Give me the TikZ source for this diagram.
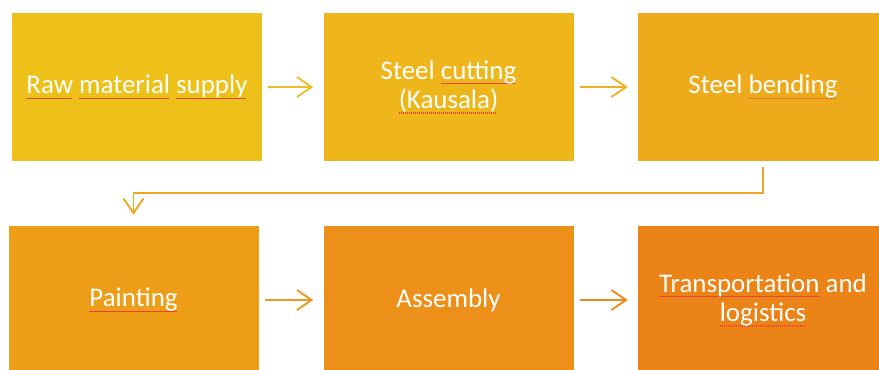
\documentclass[tikz,border=0pt]{standalone}
\usepackage{fontspec}
\setmainfont{Carlito}
\usetikzlibrary{arrows.meta}

\definecolor{spellred}{RGB}{228,70,60}
\definecolor{s1}{RGB}{237,193,25}
\definecolor{s2}{RGB}{238,182,26}
\definecolor{s3}{RGB}{237,170,27}
\definecolor{s4}{RGB}{237,157,22}
\definecolor{s5}{RGB}{236,144,25}
\definecolor{s6}{RGB}{235,131,23}
\definecolor{a1}{RGB}{238,188,40}
\definecolor{a2}{RGB}{238,177,35}
\definecolor{a3}{RGB}{237,165,35}
\definecolor{a4}{RGB}{237,150,32}
\definecolor{a5}{RGB}{236,138,30}

% small red wavy proofing mark under a word, built from leaders
\newsavebox\spellbox
\newcommand\spellmark[1]{\sbox\spellbox{#1}\leavevmode
  \rlap{\color{spellred}\leaders\hbox to 1.5pt{%
    \vrule height -2.7pt depth 3.15pt width 0.5pt
    \vrule height -3.15pt depth 3.6pt width 0.5pt\hfil}\hskip\wd\spellbox}%
  \usebox\spellbox}

\begin{document}
\begin{tikzpicture}[x=0.75pt,y=-0.75pt,
  stage/.style={rectangle, minimum width=187.5pt, minimum height=111pt,
    inner sep=0pt, text=white, align=center,
    font=\fontsize{20.2}{22}\selectfont},
  flow/.style={line width=1.4pt, -{Straight Barb[length=11pt,width=15pt,line join=miter]}}]
\useasboundingbox (0,0) rectangle (879,369);
\clip (0,0) rectangle (879,369);

\node[stage, fill=s1] (raw)   at (137,87)    {\spellmark{Raw} \spellmark{material} \spellmark{supply}};
\node[stage, fill=s2] (cut)   at (448.5,87)  {Steel \spellmark{cutting}\\\spellmark{(Kausala)}};
\node[stage, fill=s3] (bend)  at (763,87)    {Steel \spellmark{bending}};
\node[stage, fill=s4] (paint) at (133.5,300) {\spellmark{Painting}};
\node[stage, fill=s5] (asm)   at (448.5,300) {Assembly};
\node[stage, fill=s6] (trans) at (763,300)   {\spellmark{Transportation} and\\\spellmark{logistics}};

\draw[flow, draw=a1] ([xshift=4.5pt]raw.east) -- ([xshift=-7.5pt]cut.west);
\draw[flow, draw=a2] ([xshift=4.5pt]cut.east) -- ([xshift=-7.5pt]bend.west);
\draw[flow, draw=a3] ([yshift=-4.5pt]bend.south) -- ++(0,26) -| ([yshift=8.25pt]paint.north);
\draw[flow, draw=a4] ([xshift=4.5pt]paint.east) -- ([xshift=-7.5pt]asm.west);
\draw[flow, draw=a5] ([xshift=4.5pt]asm.east) -- ([xshift=-7.5pt]trans.west);
\end{tikzpicture}
\end{document}
